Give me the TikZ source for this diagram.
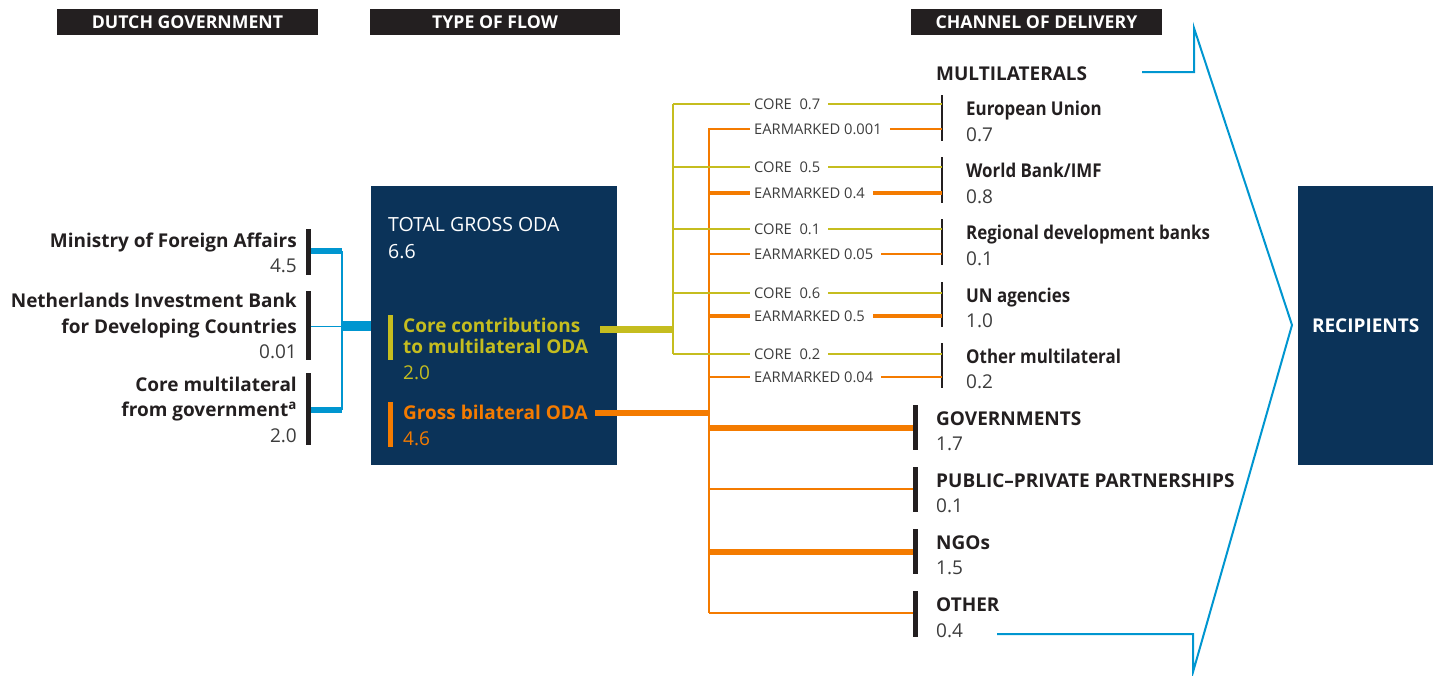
\documentclass[tikz,border=0pt]{standalone}
\usepackage{fontspec}
\setmainfont{Open Sans}
\newfontfamily\narrowsans{Open Sans}[FakeStretch=0.89]
\definecolor{navy}{RGB}{11,51,89}
\definecolor{hdrc}{RGB}{35,31,32}
\definecolor{bline}{RGB}{0,150,208}
\definecolor{olive}{RGB}{197,189,31}
\definecolor{orng}{RGB}{244,123,0}
\definecolor{ink}{RGB}{35,31,32}
\definecolor{valc}{RGB}{60,60,60}
\tikzset{
  hdr/.style={fill=hdrc, text=white, font=\bfseries\fontsize{17.7}{20}\selectfont, minimum height=26, inner sep=0},
  lbl/.style={inner sep=0, text=ink, font=\bfseries\fontsize{19}{24}\selectfont},
  nlbl/.style={inner sep=0, text=ink, font=\narrowsans\bfseries\fontsize{19}{24}\selectfont},
  val/.style={inner sep=0, text=valc, font=\fontsize{19}{24}\selectfont},
  small/.style={inner xsep=4, inner ysep=0, text=valc, font=\fontsize{14.7}{17}\selectfont},
  darkbox/.style={fill=navy, inner sep=0},
  bar/.style={draw=ink, line width=2.5},
  cbar/.style={draw=ink, line width=5},
  blthick/.style={draw=bline, line width=6},
  blthin/.style={draw=bline, line width=1},
  coreln/.style={draw=olive, line width=2.5},
  earthin/.style={draw=orng, line width=1.3},
  earthick/.style={draw=orng, line width=3.5},
  chthick/.style={draw=orng, line width=6},
}
\begin{document}
\begin{tikzpicture}[x=1pt,y=-1pt]
\useasboundingbox (0,0) rectangle (1440,675);
% headers
\node[hdr, minimum width=261] (h1) at (187.5,22) {DUTCH GOVERNMENT};
\node[hdr, minimum width=250] (h2) at (495,22) {TYPE OF FLOW};
\node[hdr, minimum width=251] (h3) at (1036.5,22) {CHANNEL OF DELIVERY};

% left sources
\node[lbl, anchor=base east] (mfa) at (297,247) {Ministry of Foreign Affairs};
\node[val, anchor=base east] (mfav) at (297,272) {4.5};
\node[lbl, anchor=base east] (nib1) at (297,307) {Netherlands Investment Bank};
\node[lbl, anchor=base east] (nib2) at (297,333) {for Developing Countries};
\node[val, anchor=base east] (nibv) at (297,358) {0.01};
\node[lbl, anchor=base east] (cm1) at (297,391) {Core multilateral};
\node[lbl, anchor=base east] (cm2) at (297,416) {from government\textsuperscript{a}};
\node[val, anchor=base east] (cmv) at (297,442) {2.0};
\draw[cbar] (308,229) -- (308,275);
\draw[cbar] (308,291) -- (308,360);
\draw[cbar] (308,373) -- (308,445);

% total box
\node[darkbox, minimum width=246, minimum height=279, anchor=north west] (total) at (371,186) {};
\node[inner sep=0, anchor=base west, text=white, font=\fontsize{19.5}{24}\selectfont] (tgo) at (388,231) {TOTAL GROSS ODA};
\node[inner sep=0, anchor=base west, text=white, font=\fontsize{19.5}{24}\selectfont] (tgov) at (388,258) {6.6};
\fill[olive] (388,315) rectangle (393,360);
\node[lbl, text=olive, anchor=base west] (ccm1) at (403,332) {Core contributions};
\node[lbl, text=olive, anchor=base west] (ccm2) at (403,353) {to multilateral ODA};
\node[val, text=olive, anchor=base west] (ccmv) at (403,379) {2.0};
\fill[orng] (388,402) rectangle (393,447);
\node[lbl, text=orng, anchor=base west] (gbo) at (403,419) {Gross bilateral ODA};
\node[val, text=orng, anchor=base west] (gbov) at (403,445) {4.6};

% blue connectors left
\coordinate (s1) at (311,251);
\coordinate (s2) at (311,326);
\coordinate (s3) at (311,410);
\coordinate (j1) at (342,251);
\coordinate (j2) at (342,326);
\coordinate (j3) at (342,410);
\draw[blthick] (s1) -- (j1);
\draw[blthick] (s3) -- (j3);
\draw[blthin] (s2) -- (j2);
\draw[draw=bline, line width=2] (j1) -- (j3);
\draw[draw=bline, line width=10] (j2) -- (total.west |- j2);

% yellow and orange trunks
\coordinate (ys) at (600,329);
\coordinate (yj) at (673,329);
\coordinate (os) at (595,413);
\coordinate (oj) at (709,413);
\draw[draw=olive, line width=7] (ys) -- (yj);
\draw[draw=orng, line width=6] (os) -- (oj);
\draw[coreln] (673,104) -- (673,354);
\draw[draw=orng, line width=2.5] (709,128) -- (709,613);

% multilateral rows
\foreach \i/\cy/\ey/\cv/\ev/\et/\bt/\bb/\nm/\nv in {
  1/104/129/0.7/0.001/earthin/95/141/European Union/0.7,
  2/167/193/0.5/0.4/earthick/157/203/World Bank\slash IMF/0.8,
  3/229/254/0.1/0.05/earthin/219/265/Regional development banks/0.1,
  4/293/316/0.6/0.5/earthick/282/327/UN agencies/1.0,
  5/354/377/0.2/0.04/earthin/343/388/Other multilateral/0.2}{
  \node[small, anchor=west] (c\i) at (750,\cy) {CORE\ \ \cv};
  \node[small, anchor=west] (e\i) at (750,\ey) {EARMARKED \ev};
  \coordinate (mt\i) at (942,\bt);
  \coordinate (mb\i) at (942,\bb);
  \draw[bar] (mt\i) -- (mb\i);
  \draw[coreln] (673,\cy) -- (c\i.west);
  \draw[coreln] (c\i.east) ++(4,0) -- (mt\i |- c\i);
  \draw[\et] (709,\ey) -- (e\i.west);
  \draw[\et] (e\i.east) ++(4,0) -- (mt\i |- e\i);
  \node[nlbl, anchor=base west] (m\i) at (966,\bt+20) {\nm};
  \node[val, anchor=base west] (mv\i) at (966,\bb) {\nv};
}

\node[lbl, anchor=base west] (multi) at (936,80) {MULTILATERALS};

% channels
\foreach \i/\bt/\bb/\ly/\st/\nm/\nv in {
  1/405/450/428/chthick/GOVERNMENTS/1.7,
  2/467/512/489/earthin/PUBLIC--PRIVATE PARTNERSHIPS/0.1,
  3/529/574/552/chthick/NGOs/1.5,
  4/591/637/613/earthin/OTHER/0.4}{
  \coordinate (ct\i) at (915,\bt);
  \coordinate (cb\i) at (915,\bb);
  \draw[cbar] (ct\i) -- (cb\i);
  \draw[\st] (709,\ly) -- (912.5,\ly);
  \node[lbl, anchor=base west] (ch\i) at (936,\bt+20) {\nm};
  \node[val, anchor=base west] (chv\i) at (936,\bb) {\nv};
}

% recipients
\node[darkbox, minimum width=135, minimum height=279, anchor=north west, text=white, font=\bfseries\fontsize{19}{24}\selectfont] (rec) at (1298,186) {RECIPIENTS};

% blue bracket
\coordinate (b1) at (1142,72);
\coordinate (b2) at (1194,72);
\coordinate (b3) at (1194,28);
\coordinate (apex) at (1292,325);
\coordinate (b4) at (1193,672);
\coordinate (b5) at (1193,634);
\coordinate (b6) at (997,634);
\draw[draw=bline, line width=2, line join=miter] (b1) -- (b2) -- (b3) -- (apex) -- (b4) -- (b5) -- (b6);
\end{tikzpicture}
\end{document}
